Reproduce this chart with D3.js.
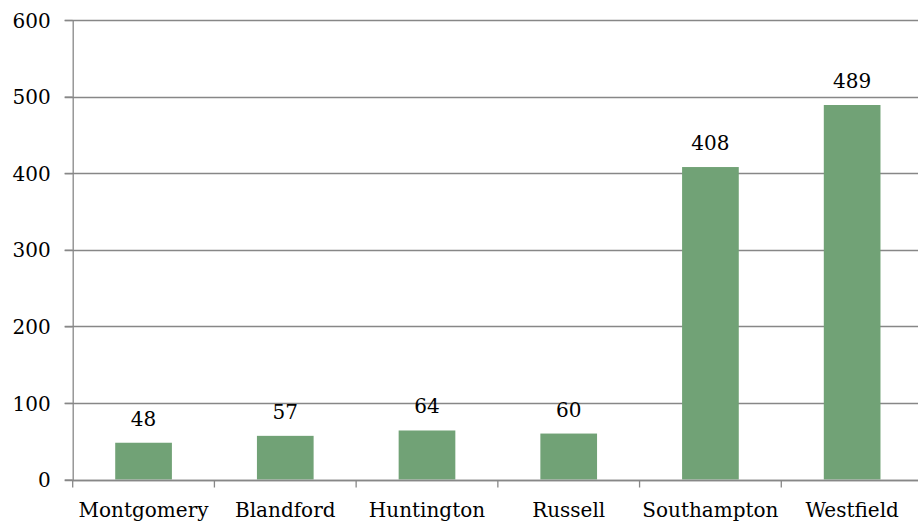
<!DOCTYPE html>
<html><head><meta charset="utf-8">
<script src="https://cdn.jsdelivr.net/npm/d3@7"></script>
<style>body{margin:0;background:#fff}svg{display:block}</style>
</head><body>
<script>
const categories = ["Montgomery","Blandford","Huntington","Russell","Southampton","Westfield"];
const values = [48,57,64,60,408,489];
const yTicks = [0,100,200,300,400,500,600];

const W = 918, H = 525;
const mLeft = 72.7, mRight = 923, mTop = 20, mBottom = 479.5;
const font = "'DejaVu Serif', serif";
const svg = d3.select("body").append("svg").attr("width", W).attr("height", H).style("overflow","hidden");

const x = d3.scaleBand().domain(categories).range([mLeft, mRight]).paddingInner(0.6).paddingOuter(0.3);
const xb = d3.scaleBand().domain(categories).range([mLeft, mRight]);
const y = d3.scaleLinear().domain([0,600]).range([mBottom, mTop]);

// gridlines
svg.append("g").selectAll("line").data(yTicks).join("line")
  .attr("x1", mLeft - 8).attr("x2", mRight)
  .attr("y1", d => Math.round(y(d)) + 0.5).attr("y2", d => Math.round(y(d)) + 0.5)
  .attr("stroke", "#878787").attr("stroke-width", 1.3);

// bars
svg.append("g").selectAll("rect").data(values).join("rect")
  .attr("x", (d,i) => x(categories[i]))
  .attr("width", x.bandwidth())
  .attr("y", d => y(d))
  .attr("height", d => y(0) - y(d))
  .attr("fill", "#71a276");

// y axis
const ya = svg.append("g").attr("transform", `translate(${mLeft},0)`)
  .call(d3.axisLeft(y).tickValues(yTicks).tickSize(8).tickSizeOuter(0).tickPadding(14));
ya.select(".domain").attr("stroke", "#878787").attr("stroke-width", 1.3);
ya.selectAll(".tick line").attr("stroke", "#878787").attr("stroke-width", 1.3);
ya.selectAll("text").attr("font-family", font).attr("font-size", 20).attr("fill", "#000").attr("dy", "0.36em");

// x axis
const xa = svg.append("g").attr("transform", `translate(0,${Math.round(y(0)) + 0.5})`);
xa.append("line").attr("x1", mLeft).attr("x2", mRight).attr("stroke", "#878787").attr("stroke-width", 1.3);
xa.selectAll("line.t").data(categories.concat([null])).join("line").attr("class","t")
  .attr("x1", (d,i) => i < categories.length ? xb(d) : mRight)
  .attr("x2", (d,i) => i < categories.length ? xb(d) : mRight)
  .attr("y1", 0).attr("y2", 7).attr("stroke", "#878787").attr("stroke-width", 1.3);
xa.selectAll("text").data(categories).join("text")
  .attr("x", d => xb(d) + xb.bandwidth()/2)
  .attr("y", 36)
  .attr("text-anchor", "middle")
  .attr("font-family", font).attr("font-size", 20).attr("fill", "#000")
  .text(d => d);

// value labels
svg.append("g").selectAll("text").data(values).join("text")
  .attr("x", (d,i) => x(categories[i]) + x.bandwidth()/2)
  .attr("y", d => y(d) - 17)
  .attr("text-anchor", "middle")
  .attr("font-family", font).attr("font-size", 20).attr("fill", "#000")
  .text(d => d);
</script>
</body></html>
